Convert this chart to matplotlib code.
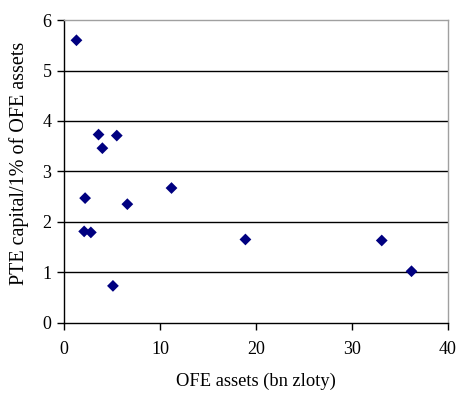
import matplotlib.pyplot as plt

plt.rcParams["font.family"] = ["Liberation Serif", "DejaVu Serif"]

ofe_assets = [1.3, 3.6, 4.0, 5.5, 2.2, 2.1, 2.8, 6.6, 11.2, 5.1, 18.9, 33.1, 36.2]
pte_capital = [5.6, 3.73, 3.46, 3.71, 2.47, 1.81, 1.79, 2.35, 2.67, 0.73, 1.65, 1.63, 1.02]

fig = plt.figure(figsize=(4.59, 3.94), dpi=100)
ax = fig.add_axes([0.1394, 0.181, 0.8366, 0.768])

for y in range(1, 6):
    ax.axhline(y, color="black", linewidth=1, zorder=1)

ax.scatter(ofe_assets, pte_capital, marker="D", s=36, color="#000080",
           edgecolors="none", zorder=3, clip_on=False)

ax.set_xlim(0, 40)
ax.set_ylim(0, 6)
ax.set_xticks(range(0, 41, 10))
ax.set_yticks(range(0, 7))
ax.tick_params(direction="out", length=5, width=1, labelsize=13, pad=4)
ax.tick_params(axis="x", pad=8)

ax.spines["left"].set_color("black")
ax.spines["bottom"].set_color("black")
ax.spines["top"].set_color("#a0a0a0")
ax.spines["right"].set_color("#a0a0a0")
for s in ax.spines.values():
    s.set_linewidth(1)

ax.set_xlabel("OFE assets (bn zloty)", fontsize=13.3, labelpad=11)
ax.set_ylabel("PTE capital/1% of OFE assets", fontsize=14.5)
ax.yaxis.set_label_coords(-0.09, 0.525)

fig.savefig("out.png", dpi=100)
